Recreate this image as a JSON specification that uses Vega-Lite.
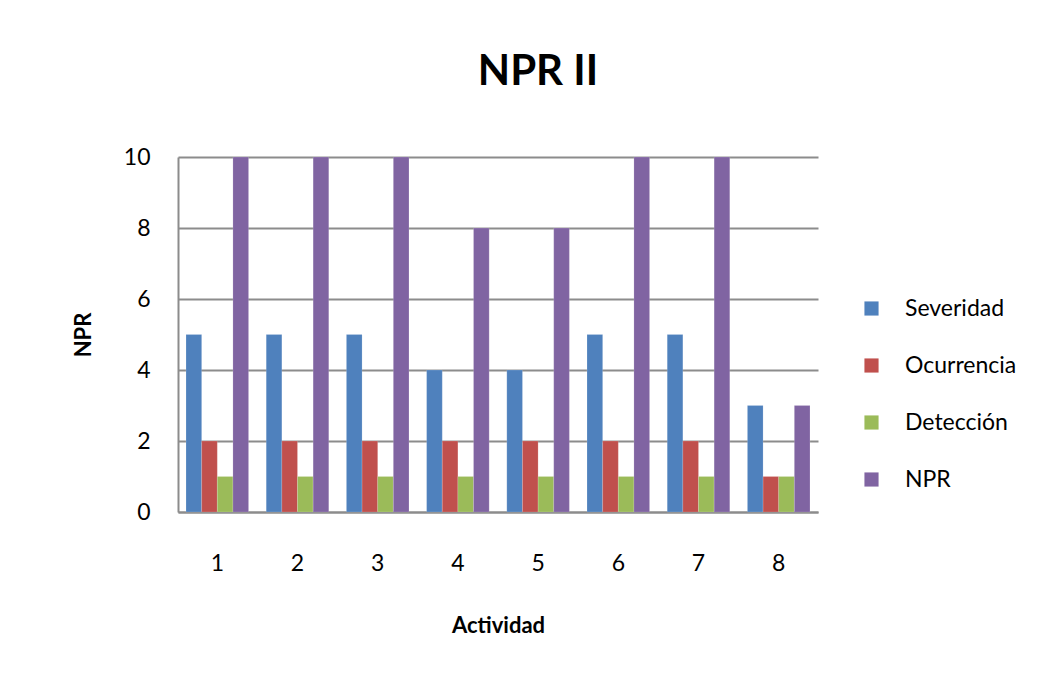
{
  "$schema": "https://vega.github.io/schema/vega-lite/v6.json",
  "autosize": {"type": "none"},
  "width": 640,
  "height": 355,
  "padding": {"left": 178, "top": 157, "right": 244, "bottom": 173},
  "background": "white",
  "title": {"text": "NPR II", "fontSize": 42, "font": "Lato", "fontWeight": "bold", "color": "#000000", "anchor": "middle", "dx": 40, "offset": 52},
  "data": {
    "values": [
      {"Actividad": "1", "Serie": "Severidad", "Valor": 5},
      {"Actividad": "1", "Serie": "Ocurrencia", "Valor": 2},
      {"Actividad": "1", "Serie": "Detección", "Valor": 1},
      {"Actividad": "1", "Serie": "NPR", "Valor": 10},
      {"Actividad": "2", "Serie": "Severidad", "Valor": 5},
      {"Actividad": "2", "Serie": "Ocurrencia", "Valor": 2},
      {"Actividad": "2", "Serie": "Detección", "Valor": 1},
      {"Actividad": "2", "Serie": "NPR", "Valor": 10},
      {"Actividad": "3", "Serie": "Severidad", "Valor": 5},
      {"Actividad": "3", "Serie": "Ocurrencia", "Valor": 2},
      {"Actividad": "3", "Serie": "Detección", "Valor": 1},
      {"Actividad": "3", "Serie": "NPR", "Valor": 10},
      {"Actividad": "4", "Serie": "Severidad", "Valor": 4},
      {"Actividad": "4", "Serie": "Ocurrencia", "Valor": 2},
      {"Actividad": "4", "Serie": "Detección", "Valor": 1},
      {"Actividad": "4", "Serie": "NPR", "Valor": 8},
      {"Actividad": "5", "Serie": "Severidad", "Valor": 4},
      {"Actividad": "5", "Serie": "Ocurrencia", "Valor": 2},
      {"Actividad": "5", "Serie": "Detección", "Valor": 1},
      {"Actividad": "5", "Serie": "NPR", "Valor": 8},
      {"Actividad": "6", "Serie": "Severidad", "Valor": 5},
      {"Actividad": "6", "Serie": "Ocurrencia", "Valor": 2},
      {"Actividad": "6", "Serie": "Detección", "Valor": 1},
      {"Actividad": "6", "Serie": "NPR", "Valor": 10},
      {"Actividad": "7", "Serie": "Severidad", "Valor": 5},
      {"Actividad": "7", "Serie": "Ocurrencia", "Valor": 2},
      {"Actividad": "7", "Serie": "Detección", "Valor": 1},
      {"Actividad": "7", "Serie": "NPR", "Valor": 10},
      {"Actividad": "8", "Serie": "Severidad", "Valor": 3},
      {"Actividad": "8", "Serie": "Ocurrencia", "Valor": 1},
      {"Actividad": "8", "Serie": "Detección", "Valor": 1},
      {"Actividad": "8", "Serie": "NPR", "Valor": 3}
    ]
  },
  "mark": {"type": "bar", "stroke": "#ffffff", "strokeOpacity": 0.3, "strokeWidth": 0.5},
  "encoding": {
    "x": {
      "field": "Actividad", "type": "nominal",
      "scale": {"paddingInner": 0.22, "paddingOuter": 0.1},
      "axis": {"title": "Actividad", "labelAngle": 0, "ticks": false, "labelPadding": 40, "titlePadding": 40, "domainColor": "#8c8c8c", "domainWidth": 2}
    },
    "xOffset": {"field": "Serie", "type": "nominal", "sort": ["Severidad", "Ocurrencia", "Detección", "NPR"], "scale": {"paddingInner": 0, "paddingOuter": 0}},
    "y": {
      "field": "Valor", "type": "quantitative",
      "scale": {"domain": [0, 10], "nice": false},
      "axis": {"title": "NPR", "values": [0, 2, 4, 6, 8, 10], "ticks": false, "labelPadding": 28, "titlePadding": 28, "grid": true, "gridColor": "#8c8c8c", "gridWidth": 2, "domainColor": "#8c8c8c", "domainWidth": 2}
    },
    "color": {
      "field": "Serie", "type": "nominal",
      "sort": ["Severidad", "Ocurrencia", "Detección", "NPR"],
      "scale": {"domain": ["Severidad", "Ocurrencia", "Detección", "NPR"], "range": ["#4F81BD", "#C0504D", "#9BBB59", "#8064A2"]},
      "legend": {"title": null, "orient": "none", "legendX": 682, "legendY": 140, "symbolType": "square", "symbolSize": 200, "labelFontSize": 23, "labelFont": "Lato", "rowPadding": 33, "labelOffset": 22, "symbolStrokeWidth": 0}
    }
  },
  "config": {
    "view": {"stroke": null},
    "axis": {"labelFont": "Lato", "titleFont": "Lato", "labelFontSize": 23, "titleFontSize": 22, "labelColor": "#000000", "titleColor": "#000000", "titleFontWeight": "bold", "labelFontWeight": "normal"}
  }
}
